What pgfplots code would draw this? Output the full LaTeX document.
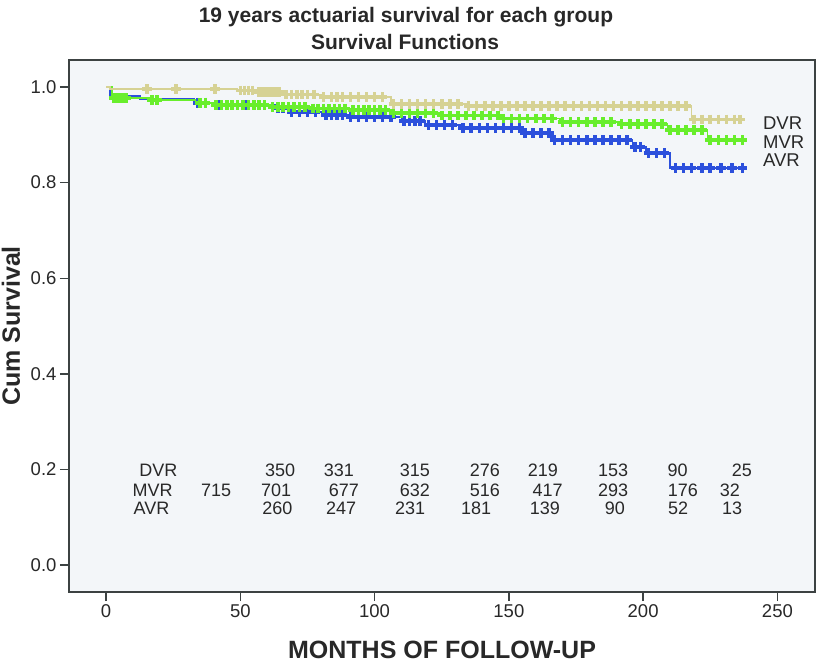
\documentclass[border=0pt]{standalone}
\usepackage{fontspec}
\setmainfont{Liberation Sans}
\usepackage{pgfplots}
\pgfplotsset{compat=1.18}

\definecolor{dvr}{RGB}{214,210,148}
\definecolor{mvr}{RGB}{104,238,44}
\definecolor{avr}{RGB}{44,80,220}
\definecolor{bgc}{RGB}{243,246,249}
\definecolor{axc}{RGB}{60,66,66}
\definecolor{txt}{RGB}{40,40,40}

\pgfplotsset{
  censor/.style={only marks, mark=+, mark size=4.8pt,
    every mark/.append style={line width=3.6pt}},
}

\begin{document}
\begin{tikzpicture}
\path[use as bounding box] (-69pt,-73pt) rectangle (750pt,592pt);
\begin{axis}[
  scale only axis, width=746pt, height=532pt,
  at={(0pt,0pt)}, anchor=south west,
  xmin=-13.8, xmax=264, ymin=-0.0565, ymax=1.0565,
  axis background/.style={fill=bgc},
  axis line style={axc, line width=1.6pt},
  xtick={0,50,100,150,200,250}, ytick={0,0.2,0.4,0.6,0.8,1.0},
  xtick pos=bottom, ytick pos=left, tick align=outside,
  major tick length=9pt, tick style={axc, line width=1.4pt},
  yticklabel style={/pgf/number format/.cd, fixed, fixed zerofill, precision=1},
  /pgf/number format/assume math mode=true,
  ticklabel style={font=\fontsize{18.5}{20}\selectfont, text=txt},
]
% AVR
\addplot[avr, line width=1.6pt, const plot, mark=none] coordinates {
 (0,1.0)(1.5,0.981)(12.7,0.975)(33,0.967)(41,0.962)(63,0.955)(68,0.948)(81,0.941)
 (90,0.937)(110,0.929)(119,0.921)(132,0.914)(155,0.904)(166,0.889)(196,0.875)
 (201,0.862)(210,0.830)(237,0.830)};
\addplot[avr, censor] coordinates {
 (34,0.967)(37,0.967)
 (42,0.962)(47,0.962)(52,0.962)(57,0.962)
 (64,0.955)(66,0.955)
 (69,0.948)(72,0.948)(75,0.948)(78,0.948)
 (82,0.941)(84,0.941)(86,0.941)(88,0.941)
 (91,0.937)(94,0.937)(97,0.937)(100,0.937)(103,0.937)(106,0.937)
 (111,0.929)(113,0.929)(115,0.929)(117,0.929)
 (120,0.921)(123,0.921)(126,0.921)(129,0.921)
 (133,0.914)(136,0.914)(139,0.914)(142,0.914)(145,0.914)(148,0.914)(151,0.914)(154,0.914)
 (156,0.904)(159,0.904)(162,0.904)(165,0.904)
 (167,0.889)(170,0.889)(173,0.889)(176,0.889)(179,0.889)(182,0.889)(185,0.889)(188,0.889)(191,0.889)(194,0.889)
 (197,0.875)(199,0.875)
 (202,0.862)(205,0.862)(208,0.862)
 (212,0.830)(215,0.830)(218,0.830)(222,0.830)(225,0.830)(229,0.830)(233,0.830)(237,0.830)};
% MVR
\addplot[mvr, line width=1.6pt, const plot, mark=none] coordinates {
 (0,1.0)(2.2,0.977)(16,0.973)(34,0.967)(40.6,0.962)(61,0.958)(76,0.955)(91,0.952)
 (106,0.946)(124,0.940)(147,0.934)(169,0.927)(191,0.922)(209,0.910)(224,0.889)(237,0.889)};
\addplot[mvr, censor] coordinates {
 (3,0.977)(4.5,0.977)(6,0.977)(7.5,0.977)
 (17,0.973)(19,0.973)
 (35,0.967)(37,0.967)
 (41,0.962)(43,0.962)(45,0.962)(47,0.962)(49,0.962)(51,0.962)(53,0.962)(55,0.962)(57,0.962)(59,0.962)
 (62,0.958)(64,0.958)(66,0.958)(68,0.958)(70,0.958)(72,0.958)(74,0.958)
 (77,0.955)(79,0.955)(81,0.955)(83,0.955)(85,0.955)(87,0.955)(89,0.955)
 (92,0.952)(94,0.952)(96,0.952)(98,0.952)(100,0.952)(102,0.952)(104,0.952)
 (107,0.946)(110,0.946)(113,0.946)(116,0.946)(119,0.946)(122,0.946)
 (125,0.940)(128,0.940)(131,0.940)(134,0.940)(137,0.940)(140,0.940)(143,0.940)(146,0.940)
 (148,0.934)(151,0.934)(154,0.934)(157,0.934)(160,0.934)(163,0.934)(166,0.934)
 (170,0.927)(173,0.927)(176,0.927)(179,0.927)(182,0.927)(185,0.927)(188,0.927)
 (192,0.922)(195,0.922)(198,0.922)(201,0.922)(204,0.922)(207,0.922)
 (210,0.910)(213,0.910)(216,0.910)(219,0.910)(222,0.910)
 (225,0.889)(228,0.889)(231,0.889)(234,0.889)(237,0.889)};
% DVR
\addplot[dvr, line width=1.6pt, const plot, mark=none] coordinates {
 (0,1.0)(1.5,0.996)(49,0.993)(56,0.989)(66,0.984)(80,0.979)(106,0.964)(134,0.960)
 (218,0.932)(236,0.932)};
\addplot[dvr, censor] coordinates {
 (15.3,0.996)(26,0.996)(40.6,0.996)
 (50,0.993)(51.5,0.993)(53,0.993)(54.5,0.993)
 (57,0.989)(58.5,0.989)(60,0.989)(61.5,0.989)(63,0.989)(64.5,0.989)
 (67,0.984)(69,0.984)(71,0.984)(73,0.984)(75,0.984)(77.5,0.984)
 (81,0.979)(84,0.979)(86,0.979)(88,0.979)(91,0.979)(94,0.979)(97,0.979)(100,0.979)(103,0.979)
 (107,0.964)(110,0.964)(113,0.964)(116,0.964)(119,0.964)(122,0.964)(125,0.964)(128,0.964)(131,0.964)
 (135,0.960)(138,0.960)(141,0.960)(144,0.960)(147,0.960)(150,0.960)(153,0.960)(156,0.960)
 (159,0.960)(162,0.960)(165,0.960)(168,0.960)(171,0.960)(174,0.960)(177,0.960)(180,0.960)
 (183,0.960)(186,0.960)(189,0.960)(192,0.960)(195,0.960)(198,0.960)(201,0.960)(204,0.960)
 (207,0.960)(210,0.960)(213,0.960)(216,0.960)
 (219,0.932)(222,0.932)(225,0.932)(228,0.932)(231,0.932)(234,0.932)(236,0.932)};

% group labels at the right
\begin{scope}[every node/.style={font=\fontsize{18.5}{20}\selectfont, text=txt, anchor=west, inner sep=0pt}]
\node at (axis cs:244.6,0.925) {DVR};
\node at (axis cs:244.6,0.885) {MVR};
\node at (axis cs:244.6,0.847) {AVR};
\end{scope}

% numbers at risk
\begin{scope}[every node/.style={font=\fontsize{18}{20}\selectfont, text=txt, inner sep=0pt}]
\node at (axis cs:19.5,0.199) {DVR};
\node at (axis cs:17.3,0.157) {MVR};
\node at (axis cs:16.9,0.119) {AVR};
\node at (axis cs:64.8,0.199) {350};
\node at (axis cs:86.7,0.199) {331};
\node at (axis cs:115.0,0.199) {315};
\node at (axis cs:141.1,0.199) {276};
\node at (axis cs:162.7,0.199) {219};
\node at (axis cs:188.8,0.199) {153};
\node at (axis cs:212.8,0.199) {90};
\node at (axis cs:236.8,0.199) {25};
\node at (axis cs:41.0,0.157) {715};
\node at (axis cs:63.3,0.157) {701};
\node at (axis cs:88.6,0.157) {677};
\node at (axis cs:115.0,0.157) {632};
\node at (axis cs:141.1,0.157) {516};
\node at (axis cs:164.4,0.157) {417};
\node at (axis cs:188.8,0.157) {293};
\node at (axis cs:214.8,0.157) {176};
\node at (axis cs:232.3,0.157) {32};
\node at (axis cs:63.8,0.119) {260};
\node at (axis cs:87.5,0.119) {247};
\node at (axis cs:113.2,0.119) {231};
\node at (axis cs:137.8,0.119) {181};
\node at (axis cs:163.4,0.119) {139};
\node at (axis cs:189.5,0.119) {90};
\node at (axis cs:213.0,0.119) {52};
\node at (axis cs:233.1,0.119) {13};
\end{scope}
\end{axis}

% titles and axis labels
\node[font=\bfseries\fontsize{21}{24}\selectfont, text=txt, anchor=base] at (337pt,569pt)
  {19 years actuarial survival for each group};
\node[font=\bfseries\fontsize{21}{24}\selectfont, text=txt, anchor=base] at (336pt,542pt)
  {Survival Functions};
\node[font=\bfseries\fontsize{25}{28}\selectfont, text=txt, anchor=base] at (373pt,-66pt)
  {MONTHS OF FOLLOW-UP};
\node[font=\bfseries\fontsize{25}{28}\selectfont, text=txt, anchor=base, rotate=90] at (-49pt,266pt)
  {Cum Survival};
\end{tikzpicture}
\end{document}
